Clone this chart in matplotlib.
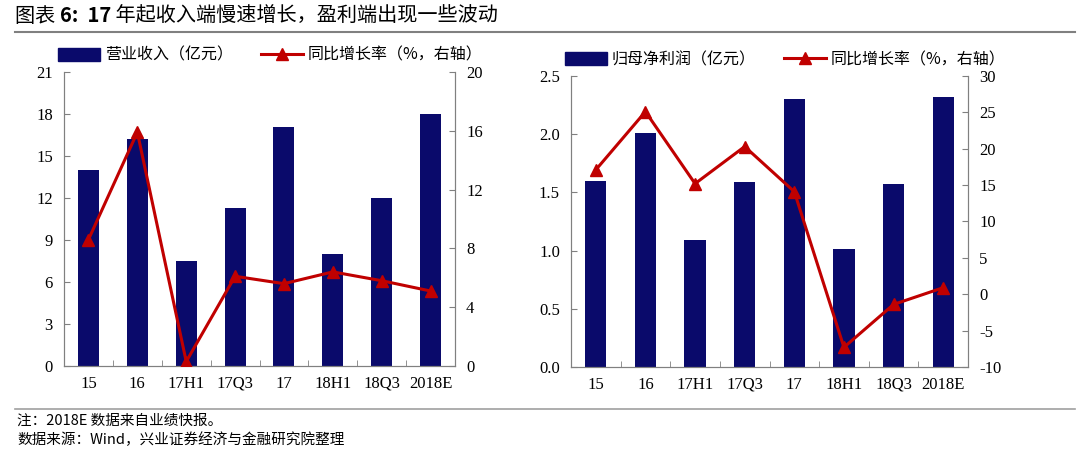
import matplotlib
matplotlib.use("Agg")
import matplotlib.pyplot as plt
from matplotlib.patches import Patch
from matplotlib.lines import Line2D

# data
cats = ["15", "16", "17H1", "17Q3", "17", "18H1", "18Q3", "2018E"]
revenue = [14.0, 16.2, 7.5, 11.3, 17.1, 8.0, 12.0, 18.0]
revenue_yoy = [8.6, 15.9, 0.3, 6.1, 5.6, 6.4, 5.8, 5.1]
profit = [1.60, 2.01, 1.09, 1.59, 2.30, 1.01, 1.57, 2.32]
profit_yoy = [17.1, 25.1, 15.2, 20.3, 14.1, -7.3, -1.4, 0.9]

BAR = "#0a0a6b"
RED = "#c00000"
GRID = "#808080"
CJK = ["Noto Sans CJK SC", "DejaVu Sans"]
SERIF = "Liberation Serif"

plt.rcParams["font.family"] = CJK
plt.rcParams["axes.unicode_minus"] = False

fig = plt.figure(figsize=(10.8, 4.51), dpi=100)
over = fig.add_axes([0, 0, 1, 1])
over.axis("off")
over.set_xlim(0, 1080)
over.set_ylim(451, 0)


def style(ax, ax2):
    for a in (ax, ax2):
        a.spines["top"].set_visible(False)
        for s in ("left", "right", "bottom"):
            a.spines[s].set_color(GRID)
        a.tick_params(axis="y", direction="in", length=4, color=GRID, labelsize=12)
    ax.tick_params(axis="x", length=0, labelsize=12, pad=7)
    ax.set_xticks(range(len(cats)))
    ax.set_xticklabels(cats, family=SERIF)
    ax.set_xticks([i + 0.5 for i in range(len(cats) - 1)], minor=True)
    ax.tick_params(axis="x", which="minor", direction="in", length=4, color=GRID)
    ax.set_xlim(-0.5, len(cats) - 0.5)
    ax.tick_params(axis="y", pad=8)
    ax2.tick_params(axis="y", pad=8)
    for t in ax.get_yticklabels() + ax2.get_yticklabels():
        t.set_family(SERIF)


def panel(rect, bars, line, bar_label, ylim, yticks, y2lim, y2ticks, fmt):
    ax = fig.add_axes(rect)
    ax2 = ax.twinx()
    x = range(len(cats))
    ax.bar(x, bars, width=0.43, color=BAR, zorder=2)
    ax2.plot(x, line, color=RED, lw=2.2, marker="^", ms=8, zorder=3)
    ax.set_ylim(*ylim)
    ax.set_yticks(yticks)
    ax.set_yticklabels([fmt.format(v) for v in yticks])
    ax2.set_ylim(*y2lim)
    ax2.set_yticks(y2ticks)
    style(ax, ax2)
    handles = [Patch(color=BAR), Line2D([], [], color=RED, lw=2.2, marker="^", ms=8)]
    ax.legend(handles, [bar_label, "同比增长率（%，右轴）"], ncol=2, frameon=False,
              loc="lower left", bbox_to_anchor=(-0.035, 1.0), fontsize=11.5,
              handlelength=2.6, handleheight=0.8, columnspacing=1.8,
              handletextpad=0.3, borderaxespad=0.1)
    return ax


panel([0.0593, 0.1885, 0.362, 0.652], revenue, revenue_yoy, "营业收入（亿元）",
      (0, 21), [0, 3, 6, 9, 12, 15, 18, 21], (0, 20), [0, 4, 8, 12, 16, 20], "{:g}")
panel([0.5287, 0.1863, 0.3676, 0.6452], profit, profit_yoy, "归母净利润（亿元）",
      (0, 2.5), [0, 0.5, 1.0, 1.5, 2.0, 2.5], (-10, 30), list(range(-10, 31, 5)), "{:.1f}")

# header and footer
t1 = over.text(15, 16, "图表 ", fontsize=14.5, va="center", ha="left")
t2 = over.annotate("6:  17", xy=(1, 0.5), xycoords=t1, va="center", ha="left",
                   fontsize=14.5, fontweight="bold")
over.annotate(" 年起收入端慢速增长，盈利端出现一些波动", xy=(1, 0.5), xycoords=t2,
              va="center", ha="left", fontsize=14.5)
over.plot([15, 1075], [32, 32], color="#808080", lw=1.5)
over.plot([15, 1075], [409, 409], color="#a0a0a0", lw=1.2)
over.text(17, 421, "注：2018E 数据来自业绩快报。", fontsize=10.5, va="center")
over.text(17, 440, "数据来源：Wind，兴业证券经济与金融研究院整理", fontsize=10.5, va="center")

fig.savefig("out.png", dpi=100)
